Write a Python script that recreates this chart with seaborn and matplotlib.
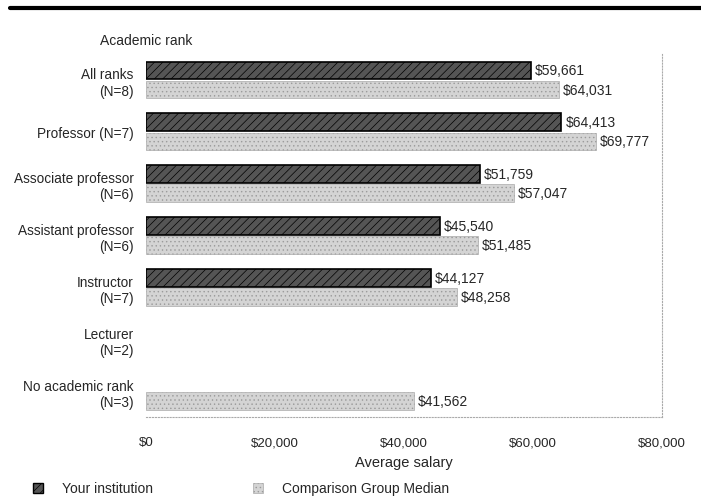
import numpy as np
import pandas as pd
import seaborn as sns
import matplotlib.pyplot as plt
from matplotlib.lines import Line2D
from matplotlib.patches import Patch

# data
categories = ["All ranks\n(N=8)", "Professor (N=7)", "Associate professor\n(N=6)",
              "Assistant professor\n(N=6)", "Instructor\n(N=7)", "Lecturer\n(N=2)",
              "No academic rank\n(N=3)"]
your_institution = [59661, 64413, 51759, 45540, 44127, np.nan, np.nan]
comparison_median = [64031, 69777, 57047, 51485, 48258, np.nan, 41562]
series_names = ["Your institution", "Comparison Group Median"]
x_ticks = [0, 20000, 40000, 60000, 80000]
x_tick_labels = ["$0", "$20,000", "$40,000", "$60,000", "$80,000"]

df = pd.DataFrame({
    "rank": categories * 2,
    "salary": your_institution + comparison_median,
    "group": [series_names[0]] * len(categories) + [series_names[1]] * len(categories),
})

sns.set_style("white")
plt.rcParams['font.family'] = ['Liberation Sans', 'DejaVu Sans']
plt.rcParams['hatch.linewidth'] = 0.5

fig = plt.figure(figsize=(7.01, 5.02), dpi=100)
ax = fig.add_axes([0.2083, 0.1673, 0.7361, 0.7231])

sns.barplot(data=df, x="salary", y="rank", hue="group", order=categories,
            hue_order=series_names, orient="h", width=0.74, gap=0.08,
            palette=["#555555", "#d4d4d4"], legend=False, ax=ax)

# texture the bars like the scanned original
styles = [dict(edgecolor="black", hatch="////", linewidth=1.2),
          dict(edgecolor="#9a9a9a", hatch="....", linewidth=0.4)]
for cont, st in zip(ax.containers, styles):
    for p in cont:
        p.set_edgecolor(st["edgecolor"])
        p.set_hatch(st["hatch"])
        p.set_linewidth(st["linewidth"])
        w = p.get_width()
        if np.isnan(w) or w == 0:
            continue
        ax.text(w + 600, p.get_y() + p.get_height() / 2, f"${w:,.0f}",
                va="center", ha="left", fontsize=10)

ax.set_xlim(0, 80000)
ax.set_xticks(x_ticks)
ax.set_xticklabels(x_tick_labels)
ax.tick_params(axis="both", length=0)
ax.tick_params(axis="x", pad=14, labelsize=9.5)
ax.tick_params(axis="y", pad=9, labelsize=9.8)
for t in ax.get_yticklabels():
    t.set_multialignment("right")

ax.set_ylabel("")
ax.set_xlabel("Average salary", fontsize=10.5, labelpad=5)
fig.text(0.143, 0.918, "Academic rank", fontsize=10, ha="left", va="center")

for side in ["top", "left"]:
    ax.spines[side].set_visible(False)
for side in ["bottom", "right"]:
    ax.spines[side].set_linestyle(":")
    ax.spines[side].set_color("#aaaaaa")
    ax.spines[side].set_linewidth(0.8)

# thick rule across the top of the page
fig.add_artist(Line2D([0.014, 1.0], [0.982, 0.982], transform=fig.transFigure,
                      color="black", lw=3))

handles = [Patch(facecolor="#555555", edgecolor="black", hatch="////", linewidth=1.0),
           Patch(facecolor="#d4d4d4", edgecolor="#9a9a9a", hatch="....", linewidth=0.4)]
fig.legend(handles, series_names, ncol=2, loc="center left",
           bbox_to_anchor=(0.029, 0.025), frameon=False, fontsize=10,
           handlelength=0.75, handleheight=0.75, handletextpad=1.35, columnspacing=7.2)

fig.savefig("out.png", dpi=100)
